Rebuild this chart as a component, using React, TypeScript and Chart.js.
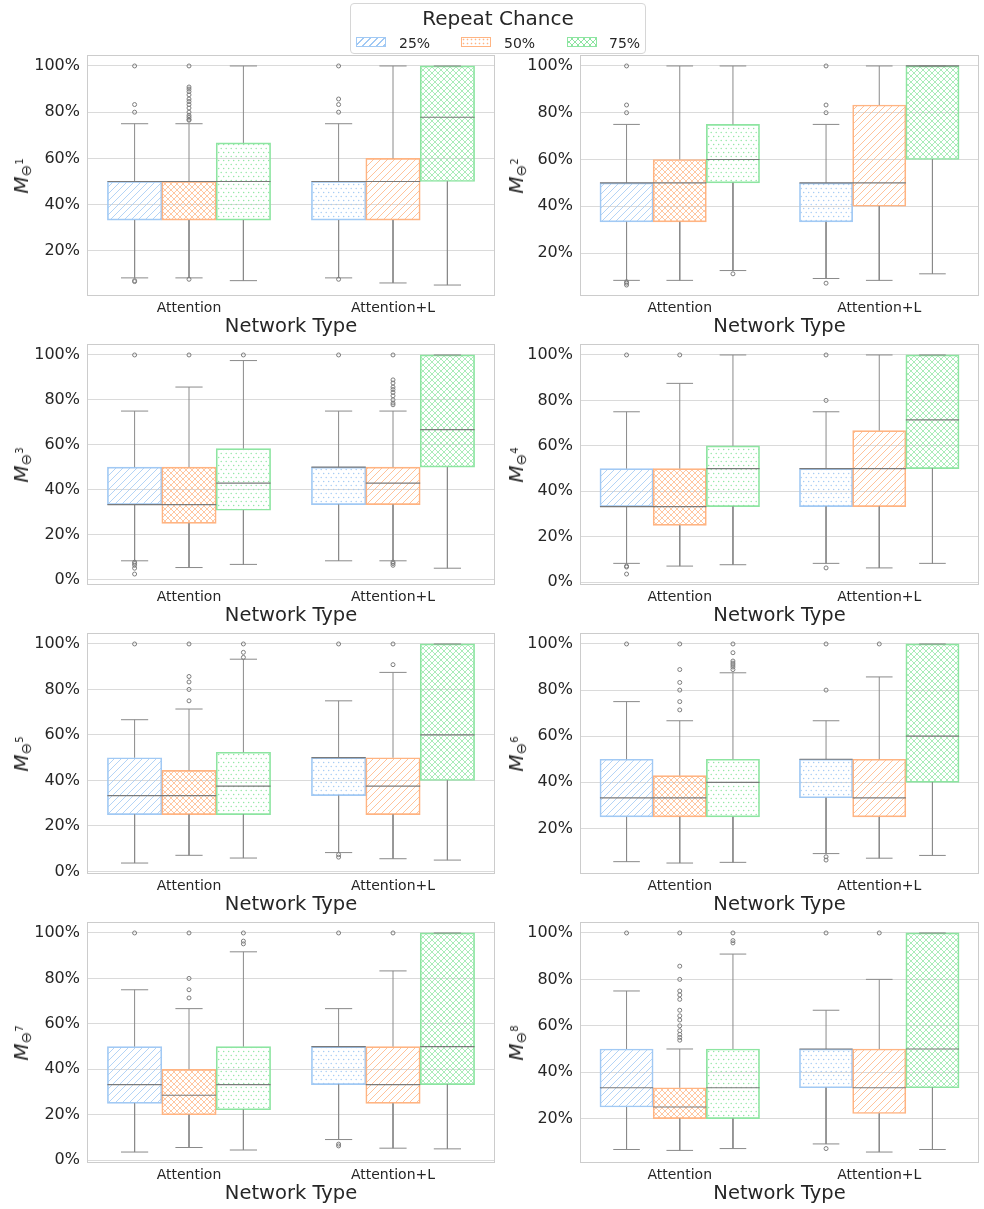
import React, { useEffect, useRef } from 'react';
import { Chart, registerables } from 'chart.js';

Chart.register(...registerables);

// ---------------- data ----------------
const networkTypes = ['Attention', 'Attention+L'];
const repeatChances = ['25%', '50%', '75%'];

// each box: [lower whisker, Q1, median, Q3, upper whisker]
// order: Attention 25/50/75, Attention+L 25/50/75
const m1Boxes = [
  [0.083, 0.333, 0.5, 0.5, 0.75], [0.083, 0.333, 0.5, 0.5, 0.75], [0.071, 0.333, 0.5, 0.667, 1.0],
  [0.083, 0.333, 0.5, 0.5, 0.75], [0.061, 0.333, 0.5, 0.6, 1.0], [0.052, 0.5, 0.778, 1.0, 1.0],
];
const m1Outliers = [
  [1.0, 0.833, 0.8, 0.071, 0.067],
  [1.0, 0.909, 0.9, 0.889, 0.875, 0.857, 0.846, 0.833, 0.818, 0.8, 0.786, 0.778, 0.769, 0.765, 0.077],
  [],
  [1.0, 0.857, 0.833, 0.8, 0.077],
  [],
  [],
];
const m2Boxes = [
  [0.083, 0.333, 0.5, 0.5, 0.75], [0.083, 0.333, 0.5, 0.6, 1.0], [0.125, 0.5, 0.6, 0.75, 1.0],
  [0.091, 0.333, 0.5, 0.5, 0.75], [0.083, 0.4, 0.5, 0.833, 1.0], [0.111, 0.6, 1.0, 1.0, 1.0],
];
const m2Outliers = [
  [1.0, 0.833, 0.8, 0.077, 0.071, 0.063],
  [],
  [0.111],
  [1.0, 0.833, 0.8, 0.071],
  [],
  [],
];
const m3Boxes = [
  [0.083, 0.333, 0.333, 0.5, 0.75], [0.053, 0.25, 0.333, 0.5, 0.857], [0.067, 0.308, 0.429, 0.583, 0.975],
  [0.083, 0.333, 0.5, 0.5, 0.75], [0.083, 0.333, 0.429, 0.5, 0.75], [0.05, 0.5, 0.667, 1.0, 1.0],
];
const m3Outliers = [
  [1.0, 0.077, 0.071, 0.063, 0.05, 0.024],
  [1.0],
  [1.0],
  [1.0],
  [1.0, 0.889, 0.875, 0.857, 0.846, 0.833, 0.818, 0.8, 0.786, 0.778, 0.077, 0.071, 0.063],
  [],
];
const m4Boxes = [
  [0.083, 0.333, 0.333, 0.5, 0.75], [0.071, 0.25, 0.333, 0.5, 0.875], [0.077, 0.333, 0.5, 0.6, 1.0],
  [0.083, 0.333, 0.5, 0.5, 0.75], [0.063, 0.333, 0.5, 0.667, 1.0], [0.083, 0.5, 0.714, 1.0, 1.0],
];
const m4Outliers = [
  [1.0, 0.071, 0.067, 0.036],
  [1.0],
  [],
  [1.0, 0.8, 0.063],
  [],
  [],
];
const m5Boxes = [
  [0.037, 0.25, 0.333, 0.5, 0.667], [0.071, 0.25, 0.333, 0.444, 0.714], [0.059, 0.25, 0.375, 0.524, 0.933],
  [0.083, 0.333, 0.5, 0.5, 0.75], [0.056, 0.25, 0.375, 0.5, 0.875], [0.05, 0.4, 0.6, 1.0, 1.0],
];
const m5Outliers = [
  [1.0],
  [1.0, 0.857, 0.833, 0.8, 0.75],
  [1.0, 0.963, 0.941],
  [1.0, 0.074, 0.063],
  [1.0, 0.909],
  [],
];
const m6Boxes = [
  [0.056, 0.25, 0.333, 0.5, 0.75], [0.05, 0.25, 0.333, 0.429, 0.667], [0.053, 0.25, 0.4, 0.5, 0.875],
  [0.091, 0.333, 0.5, 0.5, 0.667], [0.071, 0.25, 0.333, 0.5, 0.857], [0.083, 0.4, 0.6, 1.0, 1.0],
];
const m6Outliers = [
  [1.0],
  [1.0, 0.889, 0.833, 0.8, 0.75, 0.714],
  [1.0, 0.962, 0.926, 0.917, 0.909, 0.9, 0.889],
  [1.0, 0.8, 0.077, 0.063],
  [1.0],
  [],
];
const m7Boxes = [
  [0.036, 0.25, 0.333, 0.5, 0.75], [0.056, 0.2, 0.286, 0.4, 0.667], [0.045, 0.222, 0.333, 0.5, 0.917],
  [0.091, 0.333, 0.5, 0.5, 0.667], [0.053, 0.25, 0.333, 0.5, 0.833], [0.05, 0.333, 0.5, 1.0, 1.0],
];
const m7Outliers = [
  [1.0],
  [1.0, 0.8, 0.75, 0.714],
  [1.0, 0.964, 0.952],
  [1.0, 0.071, 0.063],
  [1.0],
  [],
];
const m8Boxes = [
  [0.067, 0.25, 0.333, 0.5, 0.75], [0.063, 0.2, 0.25, 0.333, 0.5], [0.071, 0.2, 0.333, 0.5, 0.909],
  [0.091, 0.333, 0.5, 0.5, 0.667], [0.056, 0.222, 0.333, 0.5, 0.8], [0.067, 0.333, 0.5, 1.0, 1.0],
];
const m8Outliers = [
  [1.0],
  [1.0, 0.857, 0.8, 0.75, 0.733, 0.714, 0.667, 0.643, 0.625, 0.6, 0.579, 0.563, 0.55, 0.538],
  [1.0, 0.967, 0.957],
  [1.0, 0.071],
  [1.0],
  [],
];

const allBoxes = [m1Boxes, m2Boxes, m3Boxes, m4Boxes, m5Boxes, m6Boxes, m7Boxes, m8Boxes];
const allOutliers = [m1Outliers, m2Outliers, m3Outliers, m4Outliers, m5Outliers, m6Outliers, m7Outliers, m8Outliers];

// ---------------- style ----------------
const FONT = "'DejaVu Sans', sans-serif";
const TEXT = '#262626';
const HUE_COLORS = ['#a1c9f4', '#ffb482', '#8de5a1'];
// hatch per box: index hue*2 + group (seaborn cycles hatches over patches hue-major)
const BOX_HATCHES = ['diag', 'dots', 'cross', 'diag', 'dots', 'cross'];
const LEGEND_HATCHES = ['diag', 'dots', 'cross'];
const WHISKER = '#8a8a8a';
const MEDIAN = '#7a7a7a';
const GRID = '#dadada';

const ROW_TOPS = [55, 344, 633, 922];
const PLOT_H = 241;
const PAD_TOP = 12;
const XAXIS_H = 44;
const COLS = [
  { canvasLeft: 0, canvasW: 500, axisW: 87, padRight: 2.5, labelX: 21 },
  { canvasLeft: 500, canvasW: 484, axisW: 80, padRight: 1, labelX: 516 },
];

function makePattern(kind: string, color: string): CanvasPattern | string {
  const c = document.createElement('canvas');
  const ctx = c.getContext('2d');
  if (!ctx) return 'transparent';
  if (kind === 'diag') {
    const s = 7;
    c.width = s; c.height = s;
    ctx.strokeStyle = color;
    ctx.lineWidth = 0.8;
    ctx.beginPath();
    for (const o of [-s, 0, s]) {
      ctx.moveTo(o, s);
      ctx.lineTo(o + s, 0);
    }
    ctx.stroke();
  } else if (kind === 'cross') {
    const s = 6;
    c.width = s; c.height = s;
    ctx.strokeStyle = color;
    ctx.lineWidth = 0.75;
    ctx.beginPath();
    for (const o of [-s, 0, s]) {
      ctx.moveTo(o, s);
      ctx.lineTo(o + s, 0);
      ctx.moveTo(o, 0);
      ctx.lineTo(o + s, s);
    }
    ctx.stroke();
  } else {
    c.width = 5; c.height = 8;
    ctx.fillStyle = color;
    ctx.beginPath();
    ctx.arc(1.2, 1.5, 0.7, 0, Math.PI * 2);
    ctx.arc(3.7, 5.5, 0.7, 0, Math.PI * 2);
    ctx.fill();
  }
  const p = ctx.createPattern(c, 'repeat');
  return p || 'transparent';
}

const framePlugin = {
  id: 'frame',
  beforeDatasetsDraw(chart: any) {
    const { ctx, chartArea: a } = chart;
    ctx.save();
    ctx.strokeStyle = '#cccccc';
    ctx.lineWidth = 1;
    const l = Math.round(a.left) + 0.5;
    const t = Math.round(a.top) + 0.5;
    const r = Math.round(a.right) - 0.5;
    const b = Math.round(a.bottom) - 0.5;
    ctx.strokeRect(l, t, r - l, b - t);
    ctx.restore();
  },
};

function Subplot({ k, row, col }: { k: number; row: number; col: number }) {
  const ref = useRef<HTMLCanvasElement>(null);
  const geo = COLS[col];
  const boxes = allBoxes[k];
  const outliers = allOutliers[k];
  const canvasH = PAD_TOP + PLOT_H + XAXIS_H;

  useEffect(() => {
    const canvas = ref.current;
    if (!canvas) return;
    const flatOut = outliers.flat();
    const dmin = Math.min(...boxes.map((b) => b[0]), ...flatOut);
    const dmax = Math.max(...boxes.map((b) => b[4]), ...flatOut);
    const margin = 0.05 * (dmax - dmin);
    const barW = 0.8 / 3;

    const boxData: any[] = [];
    const boxFill: any[] = [];
    const boxEdge: string[] = [];
    const whisk: any[] = [];
    const meds: any[] = [];
    const outs: any[] = [];
    for (let g = 0; g < 2; g++) {
      for (let h = 0; h < 3; h++) {
        const i = g * 3 + h;
        const [lo, q1, med, q3, hi] = boxes[i];
        const cx = g + (h - 1) * barW;
        boxData.push({ x: cx, y: [q1, q3] });
        boxFill.push(makePattern(BOX_HATCHES[h * 2 + g], HUE_COLORS[h]));
        boxEdge.push(HUE_COLORS[h]);
        whisk.push(
          { x: cx, y: q3 }, { x: cx, y: hi }, { x: cx, y: null },
          { x: cx - barW / 4, y: hi }, { x: cx + barW / 4, y: hi }, { x: cx, y: null },
          { x: cx, y: q1 }, { x: cx, y: lo }, { x: cx, y: null },
          { x: cx - barW / 4, y: lo }, { x: cx + barW / 4, y: lo }, { x: cx, y: null },
        );
        meds.push({ x: cx - barW / 2, y: med }, { x: cx + barW / 2, y: med }, { x: cx, y: null });
        outliers[i].forEach((v) => outs.push({ x: cx, y: v }));
      }
    }

    const chart = new Chart(canvas, {
      type: 'bar',
      data: {
        labels: networkTypes,
        datasets: [
          {
            type: 'bar', label: 'boxes', data: boxData, xAxisID: 'x2', yAxisID: 'y',
            backgroundColor: boxFill, borderColor: boxEdge, borderWidth: 1, borderSkipped: false,
            grouped: false, categoryPercentage: 1, barPercentage: 1, order: 3,
          },
          {
            type: 'line', label: 'whiskers', data: whisk, xAxisID: 'x2', yAxisID: 'y',
            borderColor: WHISKER, borderWidth: 1, pointRadius: 0, spanGaps: false, fill: false, tension: 0, order: 2,
          },
          {
            type: 'line', label: 'medians', data: meds, xAxisID: 'x2', yAxisID: 'y',
            borderColor: MEDIAN, borderWidth: 1.2, pointRadius: 0, spanGaps: false, fill: false, tension: 0, order: 1,
          },
          {
            type: 'scatter', label: 'outliers', data: outs, xAxisID: 'x2', yAxisID: 'y',
            pointRadius: 2, pointStyle: 'circle', borderColor: '#7d7d7d', backgroundColor: 'rgba(0,0,0,0)',
            borderWidth: 1, order: 0,
          },
        ] as any,
      },
      options: {
        animation: false,
        responsive: false,
        maintainAspectRatio: false,
        events: [],
        layout: { padding: { top: PAD_TOP, left: 0, right: geo.padRight, bottom: 0 } },
        plugins: { legend: { display: false }, tooltip: { enabled: false } },
        scales: {
          x: {
            type: 'category',
            labels: networkTypes,
            offset: true,
            grid: { display: false, drawTicks: false, offset: true },
            border: { display: false },
            ticks: { font: { family: FONT, size: 14 }, color: TEXT, padding: 4 },
            title: {
              display: true,
              text: 'Network Type',
              font: { family: FONT, size: 19.5 },
              color: TEXT,
              padding: { top: 0, bottom: 1 },
            },
            afterFit: (s: any) => {
              s.height = XAXIS_H;
              s.paddingLeft = 0; s.paddingRight = 0;
            },
          },
          x2: {
            type: 'linear', min: -0.5, max: 1.5, display: false, offset: false,
            grid: { offset: false }, ticks: { stepSize: 1 },
          },
          y: {
            type: 'linear',
            min: dmin - margin,
            max: dmax + margin,
            beginAtZero: false,
            grid: { color: GRID, lineWidth: 1, drawTicks: false },
            border: { display: false },
            ticks: {
              stepSize: 0.2,
              includeBounds: false,
              font: { family: FONT, size: 16 },
              color: TEXT,
              padding: 7,
              callback: (v: any) => Math.round(Number(v) * 100) + '%',
            },
            afterFit: (s: any) => {
              s.width = geo.axisW;
              s.paddingTop = 0; s.paddingBottom = 0;
            },
          },
        },
      } as any,
      plugins: [framePlugin],
    });
    return () => chart.destroy();
  }, []);

  return (
    <>
      <canvas
        ref={ref}
        width={geo.canvasW}
        height={canvasH}
        style={{ position: 'absolute', left: geo.canvasLeft, top: ROW_TOPS[row] - PAD_TOP, width: geo.canvasW, height: canvasH }}
      />
      <div
        style={{
          position: 'absolute',
          left: geo.labelX,
          top: ROW_TOPS[row] + PLOT_H / 2,
          transform: 'translate(-50%, -50%) rotate(-90deg)',
          whiteSpace: 'nowrap',
          fontFamily: FONT,
          color: TEXT,
          lineHeight: 1,
          fontSize: 20,
        }}
      >
        <span style={{ fontStyle: 'italic' }}>M</span>
        <span style={{ fontSize: 14, position: 'relative', top: 3 }}>
          ⊖<span style={{ fontSize: 10, position: 'relative', top: -8 }}>{k + 1}</span>
        </span>
      </div>
    </>
  );
}

function hatchCss(kind: string, color: string): React.CSSProperties {
  if (kind === 'diag') {
    return { backgroundImage: `repeating-linear-gradient(135deg, rgba(255,255,255,0) 0px, rgba(255,255,255,0) 4px, ${color} 4px, ${color} 5px)` };
  }
  if (kind === 'cross') {
    return {
      backgroundImage: `repeating-linear-gradient(135deg, rgba(255,255,255,0) 0px, rgba(255,255,255,0) 3.4px, ${color} 3.4px, ${color} 4.2px), repeating-linear-gradient(45deg, rgba(255,255,255,0) 0px, rgba(255,255,255,0) 3.4px, ${color} 3.4px, ${color} 4.2px)`,
    };
  }
  return {
    backgroundImage: `radial-gradient(circle at 1.5px 1.5px, ${color} 0.7px, rgba(255,255,255,0) 1.1px)`,
    backgroundSize: '4px 4px',
  };
}

function Legend() {
  const patchX = [5, 110, 216];
  const textX = [48, 153, 258];
  return (
    <div
      style={{
        position: 'absolute', left: 350, top: 3, width: 296, height: 51,
        border: '1px solid #d6d6d6', borderRadius: 4, background: 'rgba(255,255,255,0.85)',
        fontFamily: FONT, color: TEXT, zIndex: 5, boxSizing: 'border-box',
      }}
    >
      <div style={{ position: 'absolute', top: 2, left: 0, width: '100%', textAlign: 'center', fontSize: 20, lineHeight: '24px' }}>
        Repeat Chance
      </div>
      {repeatChances.map((label, h) => (
        <React.Fragment key={label}>
          <div
            style={{
              position: 'absolute', left: patchX[h], top: 33, width: 30, height: 10,
              border: `1px solid ${HUE_COLORS[h]}`, boxSizing: 'border-box',
              ...hatchCss(LEGEND_HATCHES[h], HUE_COLORS[h]),
            }}
          />
          <div style={{ position: 'absolute', left: textX[h], top: 31, fontSize: 14, lineHeight: '16px' }}>{label}</div>
        </React.Fragment>
      ))}
    </div>
  );
}

export default function App() {
  const plots = [];
  for (let k = 0; k < 8; k++) {
    plots.push(<Subplot key={k} k={k} row={Math.floor(k / 2)} col={k % 2} />);
  }
  return (
    <div style={{ position: 'absolute', left: 0, top: 0, width: 984, height: 1209, background: '#ffffff', overflow: 'hidden' }}>
      {plots}
      <Legend />
    </div>
  );
}
